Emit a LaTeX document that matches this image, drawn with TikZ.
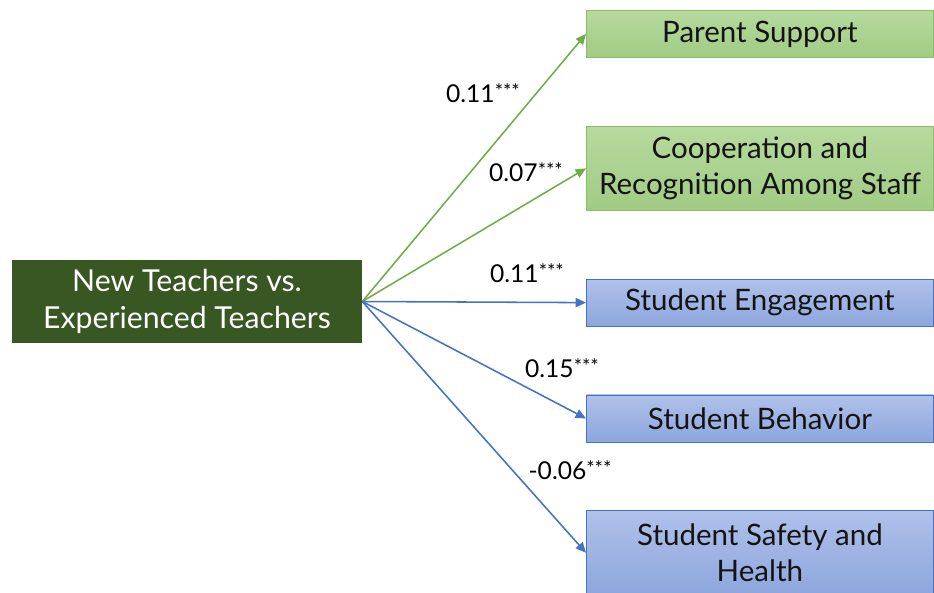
\documentclass[tikz,border=0pt]{standalone}
\usepackage{fontspec}
\setmainfont{Lato}
\usetikzlibrary{arrows.meta,positioning}
\definecolor{tchDark}{HTML}{385723}
\definecolor{tchGreen}{HTML}{70AD47}
\definecolor{tchGreenTop}{HTML}{B6DA9E}
\definecolor{tchGreenBot}{HTML}{A1CB84}
\definecolor{tchGreenLine}{HTML}{8CBE6A}
\definecolor{tchBlue}{HTML}{4472C4}
\definecolor{tchBlueTop}{HTML}{B0C1EA}
\definecolor{tchBlueBot}{HTML}{8DA6DC}
\definecolor{tchText}{HTML}{141414}
% significance stars
\newcommand{\sigstars}{\raisebox{0.3ex}{\fontsize{14}{14}\selectfont ***}}

\begin{document}
\begin{tikzpicture}[node distance=1.7cm]
\tikzset{srcbox/.style={rectangle, fill=tchDark, text=white, minimum width=8.75cm,
  minimum height=2.075cm, align=center, inner sep=2pt, font=\fontsize{21.5}{26.5}\selectfont},
 outbox/.style={rectangle, minimum width=8.675cm, minimum height=1.175cm, align=center,
  inner sep=2pt, text=tchText, font=\fontsize{21}{25}\selectfont, line width=0.6pt},
 outgreen/.style={outbox, top color=tchGreenTop, bottom color=tchGreenBot, draw=tchGreenLine},
 outblue/.style={outbox, top color=tchBlueTop, bottom color=tchBlueBot, draw=tchBlue},
 tall/.style={minimum height=2.1cm},
 wlabel/.style={font=\fontsize{17.5}{19}\selectfont, text=black, inner sep=0pt},
 garr/.style={-{Triangle[length=2.6mm, width=2.3mm]}, draw=tchGreen, line width=1.1pt},
 barr/.style={-{Triangle[length=2.6mm, width=2.3mm]}, draw=tchBlue, line width=1.1pt}}

\useasboundingbox (0,0) rectangle (23.35,-14.8);

% predictor on the left
\node[srcbox] (nt) at (4.675,-7.5375) {New Teachers vs.\\Experienced Teachers};

% outcomes stacked on the right
\node[outgreen, anchor=north west] (ps) at (14.65,-0.25) {Parent Support};
\node[outgreen, tall, below=of ps] (crs) {Cooperation and\\Recognition Among Staff};
\node[outblue, below=of crs] (se) {Student Engagement};
\node[outblue, below=of se] (sb) {Student Behavior};
\node[outblue, tall, below=of sb] (ssh) {Student Safety and\\Health};

\draw[garr] (nt.east) -- (ps.west);
\draw[garr] (nt.east) -- (crs.west);
\draw[barr] (nt.east) -- (se.west);
\draw[barr] (nt.east) -- (sb.west);
\draw[barr] (nt.east) -- (ssh.west);

% path coefficients
\node[wlabel] (w1) at (12.075,-2.325) {0.11\sigstars};
\node[wlabel] (w2) at (13.15,-4.3) {0.07\sigstars};
\node[wlabel] (w3) at (13.175,-6.825) {0.11\sigstars};
\node[wlabel] (w4) at (14.05,-9.2) {0.15\sigstars};
\node[wlabel] (w5) at (14.25,-11.75) {-0.06\sigstars};
\end{tikzpicture}
\end{document}
